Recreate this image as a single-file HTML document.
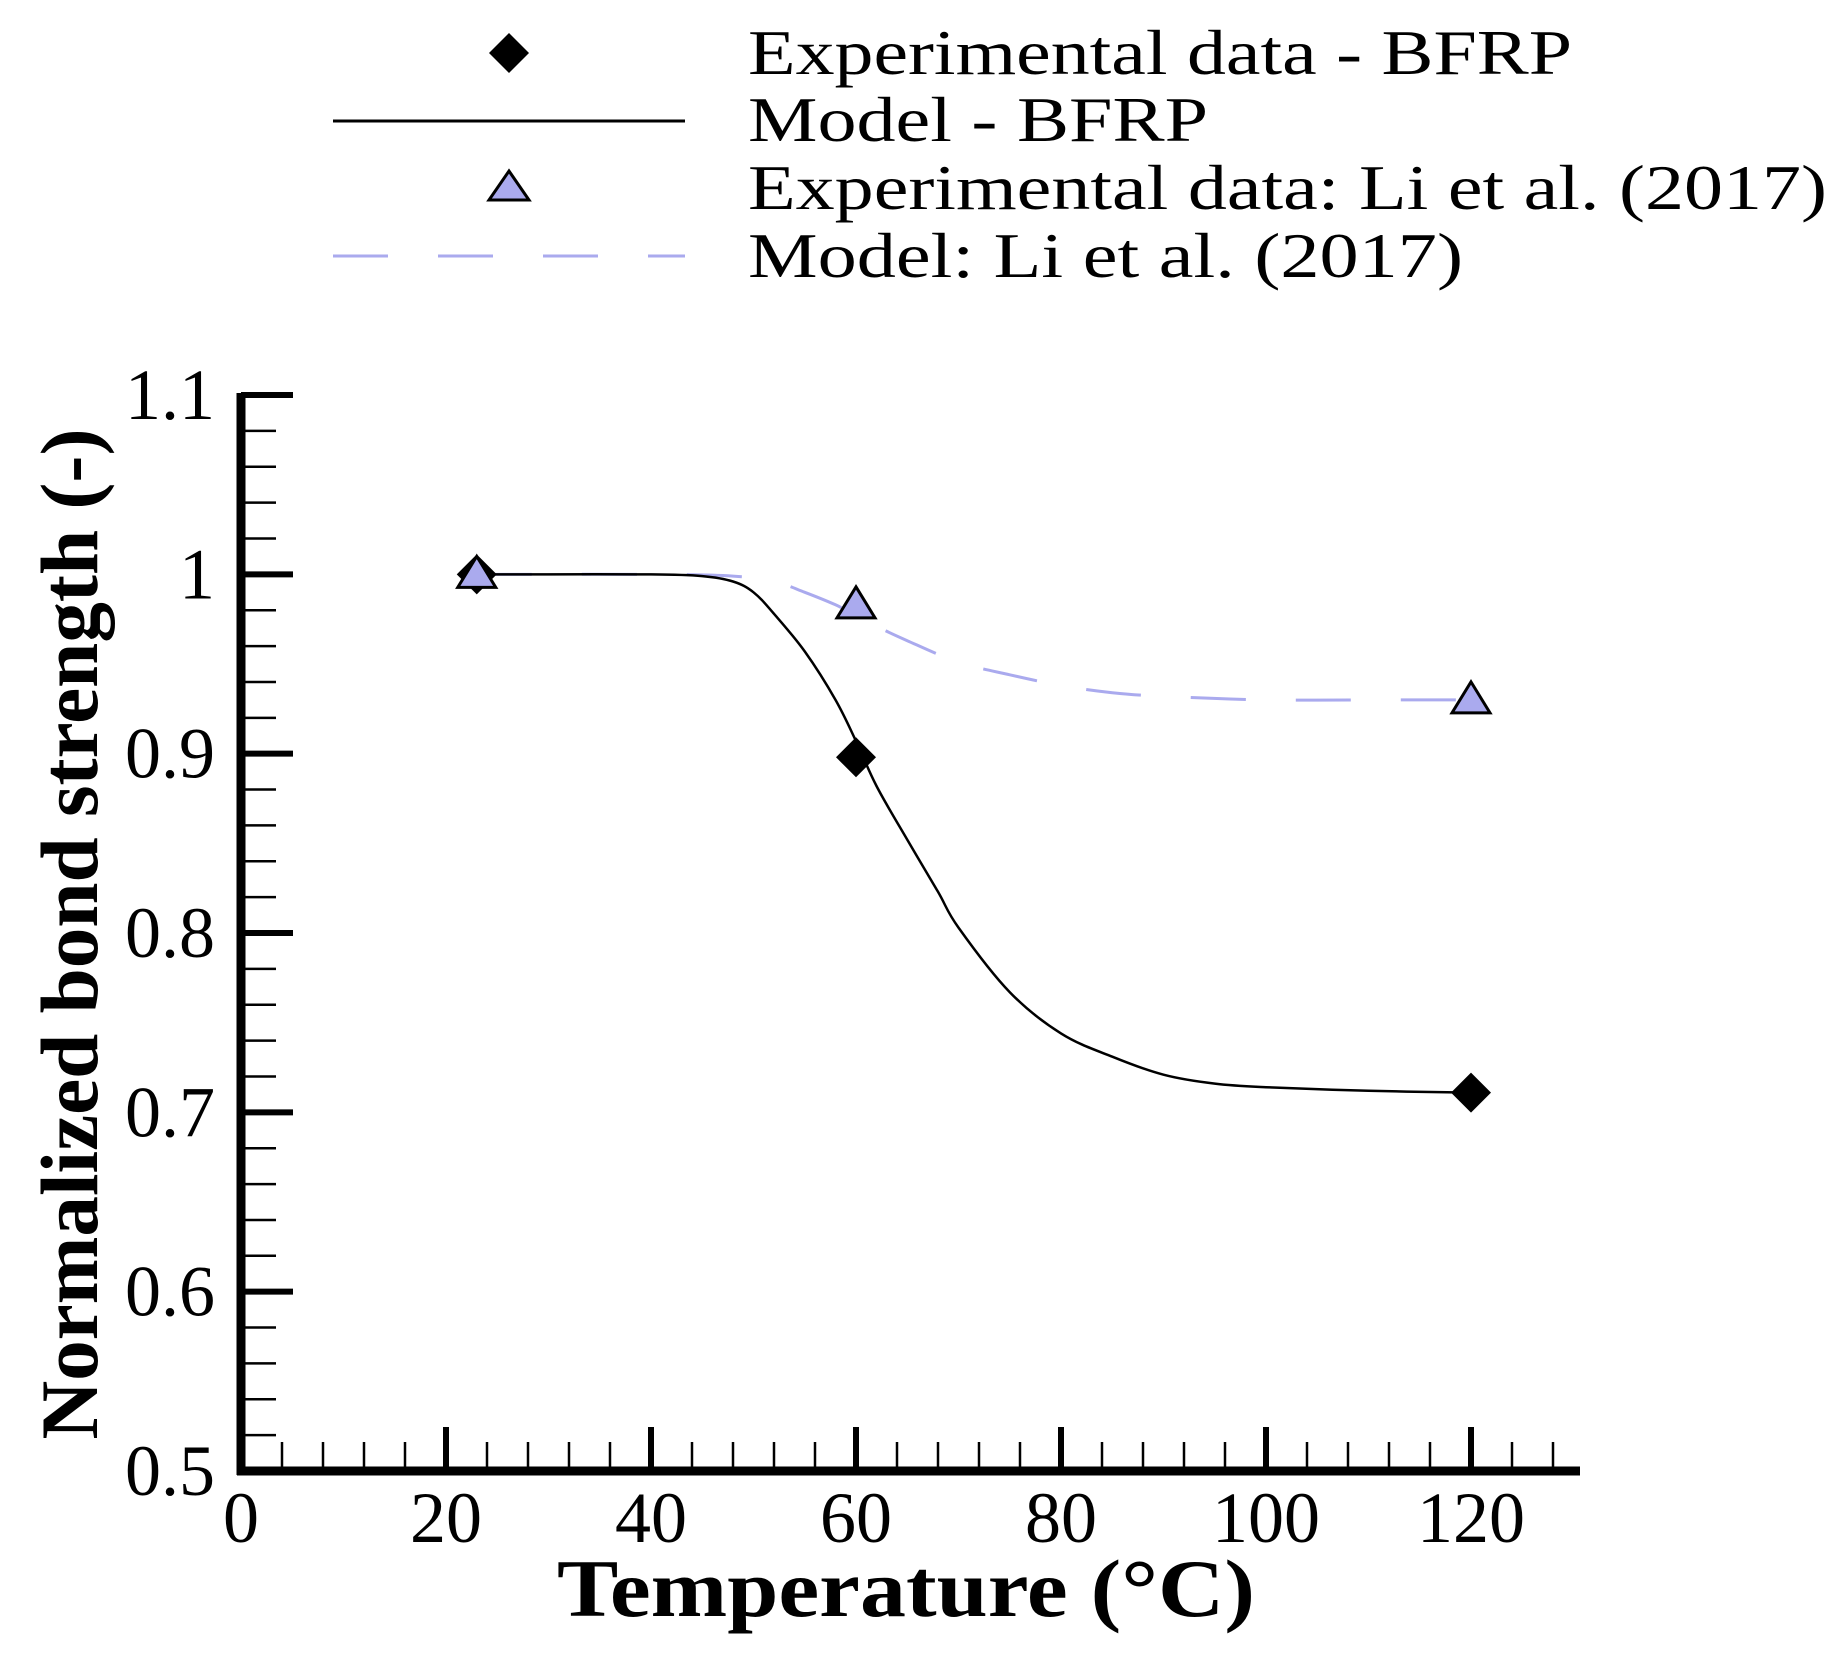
<!DOCTYPE html>
<html><head><meta charset="utf-8"><style>
html,body{margin:0;padding:0;background:#fff}
svg{display:block}
text{font-family:"Liberation Serif",serif;fill:#000}
</style></head><body>
<svg id="chart" width="1838" height="1663" viewBox="0 0 1838 1663" xmlns="http://www.w3.org/2000/svg">
<g id="legend">
  <g>
    <path d="M509 33 L529 53 L509 73 L489 53 Z" fill="#000"/>
    <text x="748" y="74" font-size="64" textLength="824" lengthAdjust="spacingAndGlyphs">Experimental data - BFRP</text>
  </g>
  <g>
    <line x1="333" y1="121" x2="685" y2="121" stroke="#000" stroke-width="3"/>
    <text x="748" y="141" font-size="64" textLength="460" lengthAdjust="spacingAndGlyphs">Model - BFRP</text>
  </g>
  <g>
    <path d="M509 171 L529 200 L489 200 Z" fill="#aaaaee" stroke="#000" stroke-width="3"/>
    <text x="748" y="209" font-size="64" textLength="1079" lengthAdjust="spacingAndGlyphs">Experimental data: Li et al. (2017)</text>
  </g>
  <g>
    <line x1="333" y1="256" x2="685" y2="256" stroke="#aaaaee" stroke-width="3" stroke-dasharray="55 50"/>
    <text x="748" y="277" font-size="64" textLength="715" lengthAdjust="spacingAndGlyphs">Model: Li et al. (2017)</text>
  </g>
</g>
<g id="axes"></g>
<g id="series"></g>
<text x="906" y="1616" font-size="82" font-weight="bold" text-anchor="middle" textLength="698" lengthAdjust="spacingAndGlyphs">Temperature (°C)</text>
<text transform="translate(97,934) rotate(-90)" font-size="82" font-weight="bold" text-anchor="middle" textLength="1011" lengthAdjust="spacingAndGlyphs">Normalized bond strength (-)</text>
</svg>
<script>
const xTicks = [0, 20, 40, 60, 80, 100, 120];
const yTicks = [0.5, 0.6, 0.7, 0.8, 0.9, 1, 1.1];
const yTickLabels = ["0.5", "0.6", "0.7", "0.8", "0.9", "1", "1.1"];
const bfrpExpX = [23, 60, 120];
const bfrpExpY = [1.0, 0.898, 0.711];
const liExpX = [23, 60, 120];
const liExpY = [1.0, 0.983, 0.930];
const bfrpModelX = [23, 30, 40, 45, 48, 50, 52, 55, 58, 60, 62, 65, 68, 70, 75, 80, 85, 90, 95, 100, 110, 120];
const bfrpModelY = [1.0, 1.0, 1.0, 0.999, 0.996, 0.99, 0.978, 0.957, 0.93, 0.907, 0.882, 0.852, 0.823, 0.803, 0.767, 0.744, 0.731, 0.721, 0.716, 0.714, 0.712, 0.711];
const liModelX = [23, 40, 48, 52, 55, 58, 60, 62, 65, 70, 75, 80, 85, 90, 100, 110, 120];
const liModelY = [1.0, 1.0, 0.999, 0.996, 0.99, 0.983, 0.977, 0.971, 0.963, 0.951, 0.944, 0.938, 0.934, 0.932, 0.930, 0.930, 0.930];

const NS = "http://www.w3.org/2000/svg";
const X0 = 241, XS = 10.25, Y0 = 1471, YS = 1793.3;
const sx = v => X0 + v * XS;
const sy = v => Y0 - (v - 0.5) * YS;
const axes = document.getElementById('axes');
const series = document.getElementById('series');
function mk(tag, attrs, parent) {
  const e = document.createElementNS(NS, tag);
  for (const k in attrs) e.setAttribute(k, attrs[k]);
  parent.appendChild(e);
  return e;
}
let ax = mk('line', {x1: X0, y1: sy(1.1) - 2, x2: X0, y2: Y0 + 4, stroke: '#000', 'stroke-width': 9}, axes);


ax = mk('line', {x1: X0 - 4, y1: Y0, x2: 1580, y2: Y0, stroke: '#000', 'stroke-width': 9}, axes);


for (let i = 0; i <= 30; i++) {
  const v = 0.5 + i * 0.02;
  if (i % 5 === 0) continue;
  const t = mk('line', {x1: X0, y1: sy(v), x2: X0 + 35, y2: sy(v), stroke: '#000', 'stroke-width': 2.5}, axes);
  
  
}
yTicks.forEach((v, i) => {
  const t = mk('line', {x1: X0, y1: sy(v), x2: X0 + 52, y2: sy(v), stroke: '#000', 'stroke-width': 6}, axes);
  
  
  const l = mk('text', {x: 215, y: sy(v) + 24, 'font-size': 72, 'text-anchor': 'end'}, axes);
  l.textContent = yTickLabels[i];
  
  
});
for (let v = 4; v <= 128; v += 4) {
  if (v % 20 === 0) continue;
  const t = mk('line', {x1: sx(v), y1: Y0, x2: sx(v), y2: Y0 - 29, stroke: '#000', 'stroke-width': 2.5}, axes);
  
  
}
xTicks.forEach(v => {
  if (v !== 0) {
    const t = mk('line', {x1: sx(v), y1: Y0, x2: sx(v), y2: Y0 - 44, stroke: '#000', 'stroke-width': 6}, axes);
    
    
  }
  const l = mk('text', {x: sx(v), y: 1542, 'font-size': 72, 'text-anchor': 'middle'}, axes);
  l.textContent = String(v);
  
  
});
function smoothPath(xs, ys) {
  const p = xs.map((x, i) => [sx(x), sy(ys[i])]);
  let d = 'M' + p[0][0].toFixed(1) + ' ' + p[0][1].toFixed(1);
  for (let i = 0; i < p.length - 1; i++) {
    const p0 = p[Math.max(0, i - 1)], p1 = p[i], p2 = p[i + 1], p3 = p[Math.min(p.length - 1, i + 2)];
    const c1x = p1[0] + (p2[0] - p0[0]) / 6, c1y = p1[1] + (p2[1] - p0[1]) / 6;
    const c2x = p2[0] - (p3[0] - p1[0]) / 6, c2y = p2[1] - (p3[1] - p1[1]) / 6;
    d += ` C${c1x.toFixed(1)} ${c1y.toFixed(1)} ${c2x.toFixed(1)} ${c2y.toFixed(1)} ${p2[0].toFixed(1)} ${p2[1].toFixed(1)}`;
  }
  return d;
}
const liLine = mk('path', {d: smoothPath(liModelX, liModelY), fill: 'none', stroke: '#aaaaee', 'stroke-width': 3, 'stroke-dasharray': '55 50'}, series);


const bLine = mk('path', {d: smoothPath(bfrpModelX, bfrpModelY), fill: 'none', stroke: '#000', 'stroke-width': 2.5}, series);


bfrpExpX.forEach((x, i) => {
  const cx = sx(x), cy = sy(bfrpExpY[i]);
  const d = mk('path', {d: `M${cx} ${cy-20} L${cx+20} ${cy} L${cx} ${cy+20} L${cx-20} ${cy} Z`, fill: '#000'}, series);
  
  
});
liExpX.forEach((x, i) => {
  const cx = sx(x), cy = sy(liExpY[i]);
  const d = mk('path', {d: `M${cx} ${cy-18} L${cx+19} ${cy+13} L${cx-19} ${cy+13} Z`, fill: '#aaaaee', stroke: '#000', 'stroke-width': 3}, series);
  
  
});
</script>
</body></html>
